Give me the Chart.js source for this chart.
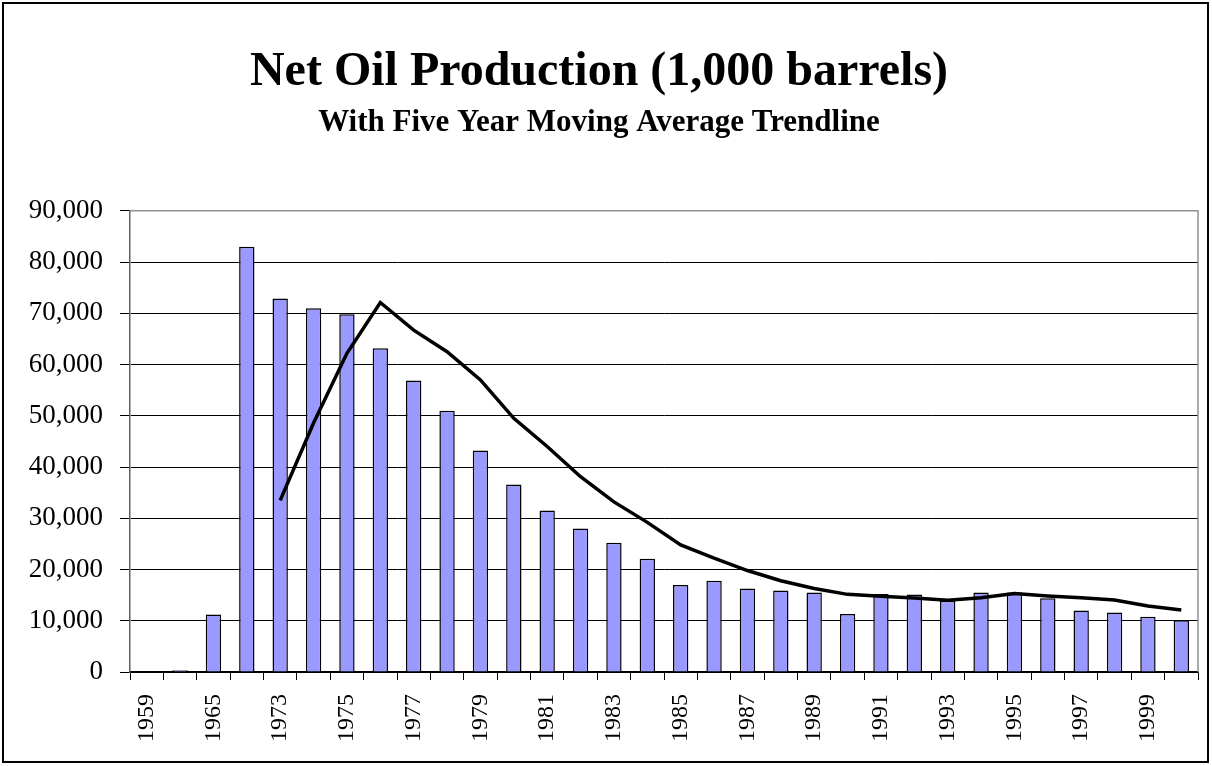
<!DOCTYPE html>
<html>
<head>
<meta charset="utf-8">
<title>Net Oil Production</title>
<script src="https://cdn.jsdelivr.net/npm/chart.js@4.4.1/dist/chart.umd.min.js"></script>
<style>
  html, body { margin: 0; padding: 0; background: #fff; }
  #wrap { position: relative; width: 1212px; height: 766px; }
</style>
</head>
<body>
<div id="wrap"><canvas id="oil-chart"></canvas></div>
<script>
// categories (every other one is labelled on the axis)
var years = ["1959", "1962", "1965", "1971", "1973", "1974", "1975", "1976", "1977", "1978",
  "1979", "1980", "1981", "1982", "1983", "1984", "1985", "1986", "1987", "1988",
  "1989", "1990", "1991", "1992", "1993", "1994", "1995", "1996", "1997", "1998",
  "1999", "2000"];

// net production, 1,000 barrels
var production = [0, 350, 11200, 83000, 72900, 71000, 69800, 63200, 56900, 51000,
  43200, 36600, 31500, 28000, 25200, 22100, 17000, 17800, 16300, 15900,
  15500, 11300, 15200, 15100, 13900, 15500, 15500, 14400, 12000, 11600,
  10800, 10100];

// five year moving average trendline
var movingAvg = [null, null, null, null, 33500, 48600, 62200, 72100, 66700, 62500,
  57000, 49500, 44000, 38100, 33200, 29200, 24800, 22200, 19800, 17800,
  16300, 15150, 14800, 14450, 14000, 14500, 15300, 14850, 14500, 14050,
  12900, 12100];

var yTicks = [0, 10000, 20000, 30000, 40000, 50000, 60000, 70000, 80000, 90000];

var serif = "'Liberation Serif', 'Times New Roman', serif";

// white page, outer frame, grey plot border on top/right
var framePlugin = {
  id: "frame",
  beforeDraw: function (chart) {
    var ctx = chart.ctx;
    ctx.save();
    ctx.fillStyle = "#fff";
    ctx.fillRect(0, 0, chart.width, chart.height);
    ctx.restore();
  },
  afterDraw: function (chart) {
    var ctx = chart.ctx;
    var a = chart.chartArea;
    ctx.save();
    ctx.strokeStyle = "#000";
    ctx.lineWidth = 2;
    ctx.strokeRect(3, 3, 1205, 759);
    ctx.strokeStyle = "#909090";
    ctx.lineWidth = 1.5;
    ctx.beginPath();
    ctx.moveTo(a.left, a.top);
    ctx.lineTo(a.right, a.top);
    ctx.lineTo(a.right, a.bottom);
    ctx.stroke();
    ctx.restore();
  }
};

new Chart(document.getElementById("oil-chart"), {
  type: "bar",
  data: {
    labels: years,
    datasets: [{
      type: "line",
      label: "5 yr moving average",
      data: movingAvg,
      borderColor: "#000",
      borderWidth: 3.5,
      pointRadius: 0,
      tension: 0,
      fill: false,
      order: 0
    }, {
      label: "Net oil production",
      data: production,
      backgroundColor: "#9999ff",
      borderColor: "#000",
      borderWidth: 1.5,
      barPercentage: 0.46,
      categoryPercentage: 1,
      order: 1
    }]
  },
  plugins: [framePlugin],
  options: {
    responsive: true,
    maintainAspectRatio: false,
    animation: false,
    layout: { padding: { top: 16, right: 14, bottom: 0, left: 0 } },
    plugins: {
      legend: { display: false },
      tooltip: { enabled: false },
      title: {
        display: true,
        text: "Net Oil Production (1,000 barrels)",
        color: "#000",
        font: { family: serif, size: 48, weight: "bold", lineHeight: 1.2 },
        padding: { top: 28, bottom: 0 }
      },
      subtitle: {
        display: true,
        text: "With Five Year Moving Average Trendline",
        color: "#000",
        font: { family: serif, size: 31, weight: "bold", lineHeight: 1.2 },
        padding: { top: 3, bottom: 69 }
      }
    },
    scales: {
      x: {
        afterFit: function (scale) {
          scale.height = 94;
          scale.paddingLeft = 0;
          scale.paddingRight = 0;
        },
        grid: {
          drawOnChartArea: false,
          drawTicks: true,
          tickLength: 8,
          color: "#000"
        },
        border: { color: "#000", width: 1.5 },
        ticks: {
          autoSkip: false,
          maxRotation: 90,
          minRotation: 90,
          padding: 14,
          color: "#000",
          font: { family: serif, size: 24 },
          callback: function (val, i) {
            return i % 2 === 0 ? this.getLabelForValue(val) : "";
          }
        }
      },
      y: {
        min: 0,
        max: 90000,
        afterFit: function (scale) { scale.width = 130; },
        afterBuildTicks: function (scale) {
          scale.ticks = yTicks.map(function (v) { return { value: v }; });
        },
        grid: {
          color: "#000",
          lineWidth: 1,
          tickLength: 10
        },
        border: { color: "#606060", width: 1.5 },
        ticks: {
          padding: 17,
          color: "#000",
          font: { family: serif, size: 27 },
          callback: function (v) { return v.toLocaleString("en-US"); }
        }
      }
    }
  }
});
</script>
</body>
</html>
